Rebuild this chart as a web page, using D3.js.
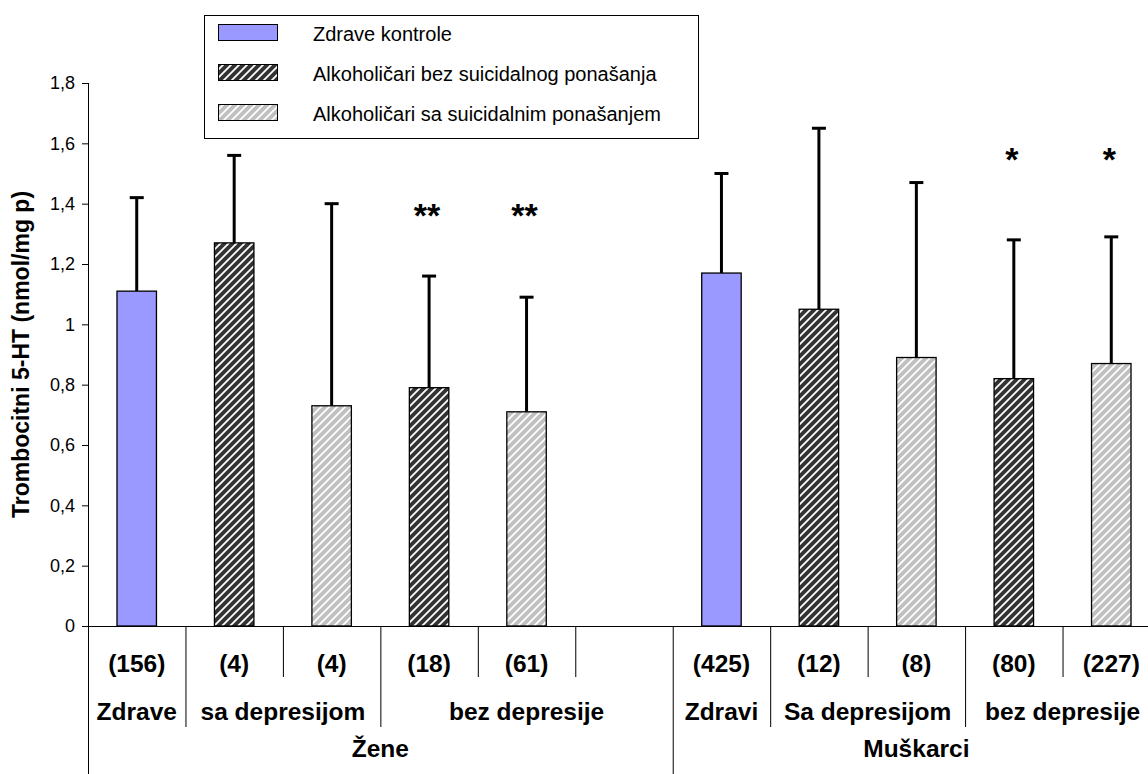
<!DOCTYPE html>
<html><head><meta charset="utf-8">
<script src="https://cdn.jsdelivr.net/npm/d3@7"></script>
<style>body{margin:0;background:#fff}svg{display:block;font-family:"Liberation Sans",Arial,sans-serif}</style>
</head><body>
<svg id="c" width="1148" height="774"></svg>
<script>
// ---- data ----
const nLabels = ["(156)","(4)","(4)","(18)","(61)","","(425)","(12)","(8)","(80)","(227)"];
const seriesOf = ["ctrl","bez","sa","bez","sa",null,"ctrl","bez","sa","bez","sa"];
const means   = [1.11,1.27,0.73,0.79,0.71,null,1.17,1.05,0.89,0.82,0.87];
const errTops = [1.42,1.56,1.40,1.16,1.09,null,1.50,1.65,1.47,1.28,1.29];
const stars   = ["","","","**","**","","","","","*","*"];
const subgroups = [
  {label:"Zdrave",from:0,to:0},{label:"sa depresijom",from:1,to:2},{label:"bez depresije",from:3,to:5},
  {label:"Zdravi",from:6,to:6},{label:"Sa depresijom",from:7,to:8},{label:"bez depresije",from:9,to:10}];
const groups = [{label:"Žene",from:0,to:5},{label:"Muškarci",from:6,to:10}];
const legendKeys = ["ctrl","bez","sa"];
const legendLabels = ["Zdrave kontrole","Alkoholičari bez suicidalnog ponašanja","Alkoholičari sa suicidalnim ponašanjem"];
const yTicks = [0,0.2,0.4,0.6,0.8,1,1.2,1.4,1.6,1.8];
const yTitle = "Trombocitni 5-HT (nmol/mg p)";

(function(){
const svg = d3.select("#c");
const left = 88, right = 1160, topY = 83, base = 626;
const x = d3.scaleBand().domain(d3.range(nLabels.length)).range([left,right]).paddingInner(0).paddingOuter(0);
const y = d3.scaleLinear().domain([0,1.8]).range([base,topY]);
const bw = x.bandwidth()*0.405;
const cx = i => x(i)+x.bandwidth()/2;

// patterns
const defs = svg.append("defs");
function stripe(id,bg,fg,w){
  const p = defs.append("pattern").attr("id",id).attr("patternUnits","userSpaceOnUse")
    .attr("width",8).attr("height",8);
  p.append("rect").attr("width",8).attr("height",8).attr("fill",bg);
  p.append("path").attr("d","M-2,2 L2,-2 M0,8 L8,0 M6,10 L10,6").attr("stroke",fg).attr("stroke-width",w);
}
stripe("pDark","#333333","#ffffff",1.8);
stripe("pLight","#c0c0c0","#ffffff",1.8);
const fillOf = {ctrl:"#9999ff",bez:"url(#pDark)",sa:"url(#pLight)"};

// y axis
const yAxis = d3.axisLeft(y).tickValues(yTicks).tickSize(6).tickPadding(7).tickSizeOuter(0)
  .tickFormat(d=>String(d).replace(".",","));
const gy = svg.append("g").attr("transform",`translate(${left},0)`).call(yAxis);
gy.select(".domain").remove();
gy.selectAll("text").attr("font-size",18).attr("fill","#000").attr("font-family","Liberation Sans, Arial, sans-serif");
gy.selectAll("line").attr("stroke","#000");
svg.append("line").attr("x1",left+0.5).attr("x2",left+0.5).attr("y1",topY).attr("y2",774).attr("stroke","#000");
svg.append("line").attr("x1",left).attr("x2",1148).attr("y1",base+0.5).attr("y2",base+0.5).attr("stroke","#000");

svg.append("text").attr("transform",`translate(29,${(topY+base)/2}) rotate(-90)`)
  .attr("text-anchor","middle").attr("font-weight","bold").attr("font-size",23).text(yTitle);

// bars + error bars
const idx = d3.range(nLabels.length).filter(i=>means[i]!=null);
svg.append("g").selectAll("line").data(idx).join("line")
  .attr("x1",cx).attr("x2",cx)
  .attr("y1",i=>y(means[i])).attr("y2",i=>y(errTops[i])).attr("stroke","#000").attr("stroke-width",3);
svg.append("g").selectAll("line").data(idx).join("line")
  .attr("x1",i=>cx(i)-7).attr("x2",i=>cx(i)+7)
  .attr("y1",i=>y(errTops[i])).attr("y2",i=>y(errTops[i])).attr("stroke","#000").attr("stroke-width",3);
svg.append("g").selectAll("rect").data(idx).join("rect")
  .attr("x",i=>x(i)+(x.bandwidth()-bw)/2).attr("width",bw)
  .attr("y",i=>y(means[i])).attr("height",i=>base-y(means[i]))
  .attr("fill",i=>fillOf[seriesOf[i]]).attr("stroke","#000").attr("stroke-width",1.3);

// significance stars
svg.append("g").selectAll("text").data(idx.filter(i=>stars[i])).join("text")
  .attr("x",i=>cx(i) - 2)
  .attr("y",i=>stars[i].length>1?227:171)
  .attr("text-anchor","middle").attr("font-size",34).attr("font-weight","bold").text(i=>stars[i]);

// category labels
const labSize = 24.5;
svg.append("g").selectAll("text").data(d3.range(nLabels.length)).join("text")
  .attr("x",cx).attr("y",672).attr("text-anchor","middle")
  .attr("font-size",labSize).attr("font-weight","bold").text(i=>nLabels[i]);
svg.append("g").selectAll("line").data(d3.range(1,nLabels.length)).join("line")
  .attr("x1",i=>x(i)+0.5).attr("x2",i=>x(i)+0.5).attr("y1",base).attr("y2",i=>{
    if(groups.some(g=>g.from===i)) return 774;
    if(subgroups.some(s=>s.from===i)) return 727;
    return 677;}).attr("stroke","#000");
svg.append("g").selectAll("text").data(subgroups).join("text")
  .attr("x",s=>(x(s.from)+x(s.to)+x.bandwidth())/2).attr("y",720).attr("text-anchor","middle")
  .attr("font-size",labSize).attr("font-weight","bold").text(s=>s.label);
svg.append("g").selectAll("text").data(groups).join("text")
  .attr("x",g=>(x(g.from)+x(g.to)+x.bandwidth())/2).attr("y",757).attr("text-anchor","middle")
  .attr("font-size",labSize).attr("font-weight","bold").text(g=>g.label);

// legend
const lg = svg.append("g");
lg.append("rect").attr("x",204.5).attr("y",15.5).attr("width",494).attr("height",123).attr("fill","#fff").attr("stroke","#000");
legendKeys.forEach((k,j)=>{
  const cyy = 33 + j*40;
  lg.append("rect").attr("x",218.5).attr("y",cyy-8.5).attr("width",59).attr("height",16).attr("fill",fillOf[k]).attr("stroke","#000");
  lg.append("text").attr("x",313).attr("y",cyy+8).attr("font-size",20).text(legendLabels[j]);
});
})();
</script>
</body></html>
